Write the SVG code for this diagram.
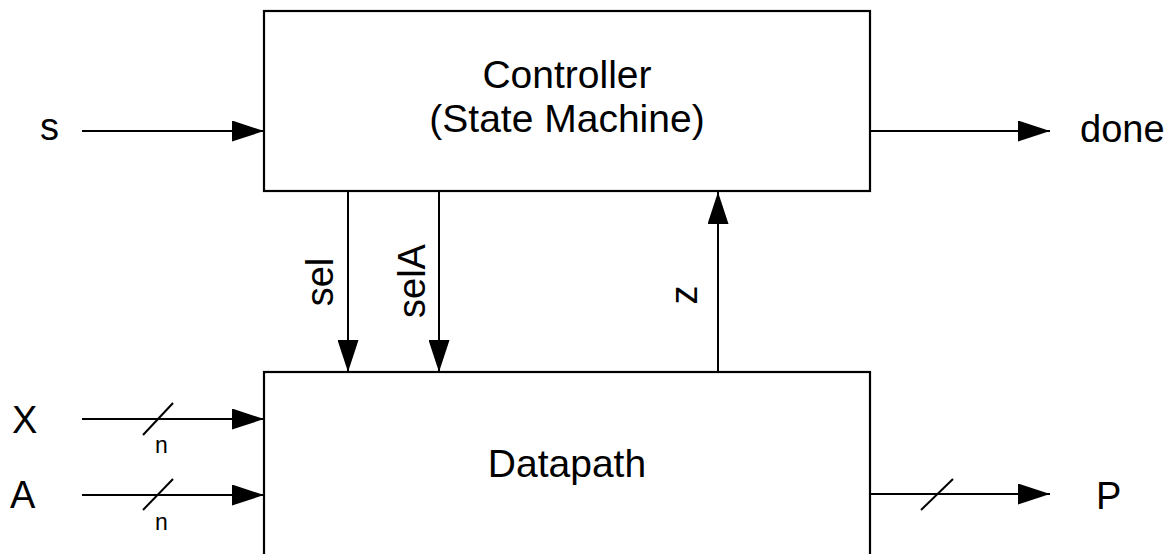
<svg xmlns="http://www.w3.org/2000/svg" width="1175" height="554" viewBox="0 0 1175 554">
<style>
.box{fill:#fff;stroke:#000;stroke-width:2.2}
.ln{fill:none;stroke:#000;stroke-width:2}
.t{font-family:"Liberation Sans",Arial,sans-serif;font-size:38px;fill:#000}
.big{font-size:39px}
.s{font-family:"Liberation Sans",Arial,sans-serif;font-size:23px;fill:#000}
</style>
<defs>
<marker id="ah" viewBox="0 0 32 21" refX="32" refY="10.5" markerWidth="32" markerHeight="21" markerUnits="userSpaceOnUse" orient="auto">
<path d="M0,0 L32,10.5 L0,21 Z" fill="#000"/>
</marker>
</defs>
<rect width="1175" height="554" fill="#fff"/>
<g id="controller">
<rect class="box" x="264" y="11" width="606" height="180"/>
<text class="t big" x="567" y="88" text-anchor="middle">Controller</text>
<text class="t big" x="567" y="132" text-anchor="middle">(State Machine)</text>
</g>
<g id="datapath">
<rect class="box" x="264" y="372" width="606" height="200"/>
<text class="t big" x="567" y="477" text-anchor="middle">Datapath</text>
</g>
<g id="labels">
<text class="t" x="40" y="140">s</text>
<text class="t" x="1080" y="142">done</text>
<text class="t" x="12" y="433">X</text>
<text class="t" x="10" y="508">A</text>
<text class="t" x="1096" y="509">P</text>
<text class="s" x="155" y="453">n</text>
<text class="s" x="155" y="530">n</text>
<text class="t" transform="translate(333,282) rotate(-90)" text-anchor="middle">sel</text>
<text class="t" transform="translate(425,281) rotate(-90)" text-anchor="middle">selA</text>
<text class="t" transform="translate(697,295) rotate(-90)" text-anchor="middle">z</text>
</g>
<g id="connectors">
<line class="ln" x1="82" y1="131" x2="264" y2="131" marker-end="url(#ah)"/>
<line class="ln" x1="870" y1="131" x2="1050" y2="131" marker-end="url(#ah)"/>
<line class="ln" x1="82" y1="419" x2="264" y2="419" marker-end="url(#ah)"/>
<line class="ln" x1="82" y1="495" x2="264" y2="495" marker-end="url(#ah)"/>
<line class="ln" x1="870" y1="494" x2="1050" y2="494" marker-end="url(#ah)"/>
<line class="ln" x1="348" y1="191" x2="348" y2="372" marker-end="url(#ah)"/>
<line class="ln" x1="439" y1="191" x2="439" y2="372" marker-end="url(#ah)"/>
<line class="ln" x1="718" y1="372" x2="718" y2="192" marker-end="url(#ah)"/>
<line class="ln" x1="143" y1="435" x2="173" y2="403"/>
<line class="ln" x1="143" y1="510" x2="173" y2="479"/>
<line class="ln" x1="921" y1="510" x2="953" y2="479"/>
</g>
</svg>
